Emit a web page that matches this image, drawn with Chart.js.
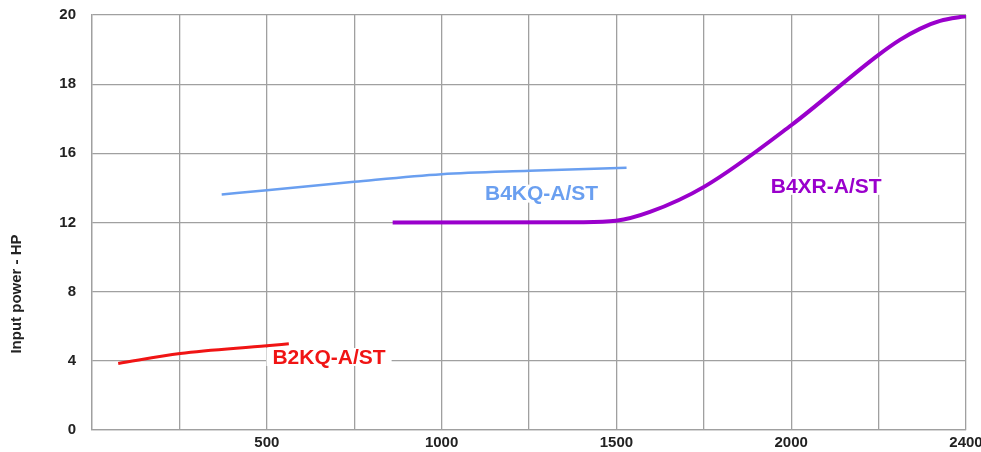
<!DOCTYPE html>
<html lang="en">
<head>
    <meta charset="UTF-8">
    <title>Input power - HP</title>
    <script src="https://cdn.jsdelivr.net/npm/chart.js"></script>
    <style>
        body { margin: 0; background: #fff; }
        #wrap { width: 981px; height: 452px; }
    </style>
</head>
<body>
    <div id="wrap"><canvas id="powerChart"></canvas></div>

    <script>
        // axis ticks (the y axis is not linear: 0,4,8,12,16,18,20 are evenly spaced)
        const yTickValues = [0, 4, 8, 12, 16, 18, 20];
        const xTickValues = [500, 1000, 1500, 2000, 2500];
        const xTickText = ['500', '1000', '1500', '2000', '2400'];

        // series
        const b2kqX = [75, 252, 500, 563];
        const b2kqY = [3.84, 4.42, 4.87, 4.99];

        const b4kqX = [371, 500, 750, 1000, 1251, 1529];
        const b4kqY = [13.62, 13.86, 14.35, 14.79, 14.99, 15.17];

        const b4xrX = [860, 1400, 1499, 1596, 1753, 2001, 2249, 2311, 2368, 2426, 2483, 2500];
        const b4xrY = [12, 12.02, 12.1, 12.61, 14.09, 16.82, 18.84, 19.28, 19.6, 19.83, 19.94, 19.96];

        const seriesNames = ['B2KQ-A/ST', 'B4KQ-A/ST', 'B4XR-A/ST'];
        const seriesColors = ['#f01414', '#6a9ff0', '#9a00cc'];

        // HP value -> position on the evenly spaced grid
        function toGrid(hp) {
            for (let i = 0; i < yTickValues.length - 1; i++) {
                const a = yTickValues[i], b = yTickValues[i + 1];
                if (hp <= b) return i + (hp - a) / (b - a);
            }
            return yTickValues.length - 1;
        }

        function points(xs, ys) {
            return xs.map((x, i) => ({ x: x, y: toGrid(ys[i]) }));
        }

        // where the series names sit (x value, HP value)
        const labelSpots = [[678, 4.22], [1286, 13.67], [2100, 14.12]];

        const seriesLabels = {
            id: 'seriesLabels',
            afterDatasetsDraw(chart) {
                const ctx = chart.ctx;
                const xs = chart.scales.x, ys = chart.scales.y;
                ctx.save();
                ctx.font = 'bold 21px "Liberation Sans", Arial, sans-serif';
                ctx.textAlign = 'center';
                ctx.textBaseline = 'middle';
                seriesNames.forEach((name, i) => {
                    const px = xs.getPixelForValue(labelSpots[i][0]);
                    const py = ys.getPixelForValue(toGrid(labelSpots[i][1]));
                    const w = ctx.measureText(name).width;
                    ctx.fillStyle = '#fff';
                    ctx.fillRect(px - w / 2 - 6, py - 9, w + 12, 18);
                    ctx.fillStyle = seriesColors[i];
                    ctx.fillText(name, px, py + 1);
                });
                // y axis title
                ctx.font = 'bold 15px "Liberation Sans", Arial, sans-serif';
                ctx.fillStyle = '#222';
                ctx.translate(17, 294);
                ctx.rotate(-Math.PI / 2);
                ctx.fillText('Input power - HP', 0, 0);
                ctx.restore();
            }
        };

        const gridColor = '#a0a0a0';
        const tickFont = { family: '"Liberation Sans", Arial, sans-serif', size: 15, weight: 'bold' };

        new Chart(document.getElementById('powerChart'), {
            type: 'line',
            data: {
                datasets: [
                    { label: seriesNames[0], data: points(b2kqX, b2kqY), borderColor: seriesColors[0], borderWidth: 3 },
                    { label: seriesNames[1], data: points(b4kqX, b4kqY), borderColor: seriesColors[1], borderWidth: 2.5 },
                    { label: seriesNames[2], data: points(b4xrX, b4xrY), borderColor: seriesColors[2], borderWidth: 4 }
                ]
            },
            options: {
                responsive: true,
                maintainAspectRatio: false,
                animation: false,
                devicePixelRatio: 1,
                layout: { padding: { top: 15, right: 15, left: 0, bottom: 0 } },
                elements: {
                    point: { radius: 0 },
                    line: { cubicInterpolationMode: 'monotone', fill: false, borderCapStyle: 'butt' }
                },
                plugins: { legend: { display: false }, tooltip: { enabled: false } },
                scales: {
                    x: {
                        type: 'linear',
                        min: 0,
                        max: 2500,
                        afterBuildTicks: s => { s.ticks = [0, 250, 500, 750, 1000, 1250, 1500, 1750, 2000, 2250, 2500].map(v => ({ value: v })); },
                        afterFit: s => { s.height = 22; s.paddingLeft = 0; s.paddingRight = 0; },
                        grid: { color: gridColor, lineWidth: 1.3, drawTicks: false },
                        border: { color: gridColor, width: 1.3 },
                        ticks: {
                            padding: 4,
                            maxRotation: 0,
                            autoSkip: false,
                            color: '#222',
                            font: tickFont,
                            callback: v => {
                                const i = xTickValues.indexOf(v);
                                return i >= 0 ? xTickText[i] : '';
                            }
                        }
                    },
                    y: {
                        type: 'linear',
                        min: 0,
                        max: yTickValues.length - 1,
                        afterFit: s => { s.width = 92; s.paddingTop = 0; s.paddingBottom = 0; },
                        grid: { color: gridColor, lineWidth: 1.3, drawTicks: false },
                        border: { color: gridColor, width: 1.3 },
                        ticks: {
                            stepSize: 1,
                            padding: 16,
                            color: '#222',
                            font: tickFont,
                            callback: v => yTickValues[v]
                        }
                    }
                }
            },
            plugins: [seriesLabels]
        });
    </script>
</body>
</html>
